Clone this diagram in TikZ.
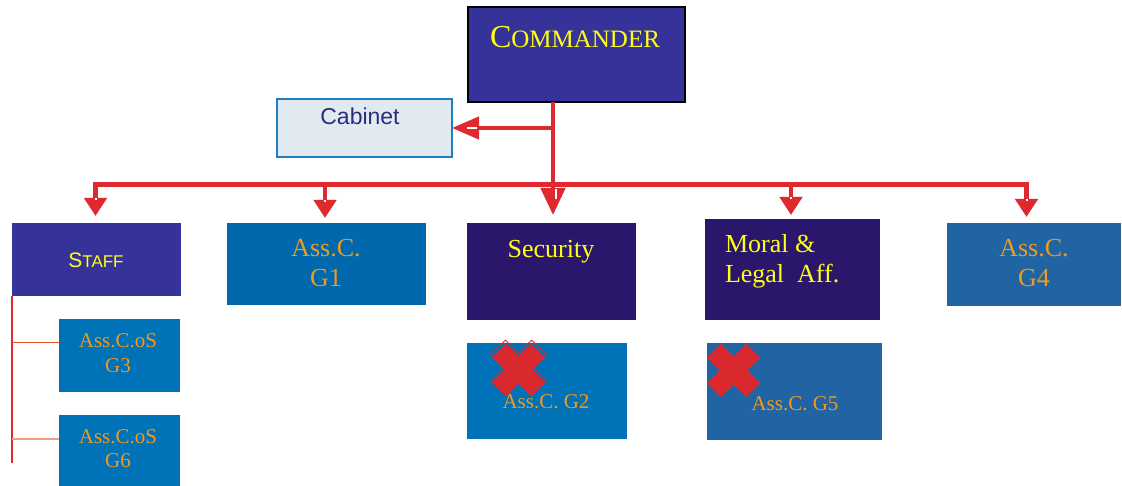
\documentclass[tikz,border=0pt]{standalone}
\usepackage{fontspec}
\setmainfont{Liberation Serif}
\setsansfont{Liberation Sans}
\usetikzlibrary{arrows.meta,calc}
\definecolor{cmdblue}{HTML}{35339A}
\definecolor{darkpurple}{HTML}{2A176C}
\definecolor{blueA}{HTML}{0068AD}
\definecolor{blueB}{HTML}{0072B8}
\definecolor{blueC}{HTML}{2064A4}
\definecolor{cabfill}{HTML}{E2EAF1}
\definecolor{cabdraw}{HTML}{1E80C2}
\definecolor{cabtext}{HTML}{2B2C7E}
\definecolor{lred}{HTML}{DE2A2F}
\definecolor{crossred}{HTML}{D9292E}
\definecolor{otext}{HTML}{F09A1E}
\definecolor{ytext}{HTML}{FFFF10}
\definecolor{branchA}{HTML}{E8502C}
\definecolor{branchB}{HTML}{F0A07E}
\tikzset{
  droptip/.tip={Triangle[length=18pt,width=22pt]},
  bigtip/.tip={Triangle[length=27pt,width=24pt]},
  cabtip/.tip={Triangle[length=27pt,width=22pt]}
}
\begin{document}
\begin{tikzpicture}[x=1pt,y=-1pt,
  box/.style={rectangle, inner sep=0pt, outer sep=0pt, anchor=north west},
  lbl/.style={inner sep=0pt, outer sep=0pt, anchor=base},
  otxt/.style={lbl, text=otext, font=\fontsize{26}{30}\selectfont},
  otxtsm/.style={lbl, text=otext, font=\fontsize{21}{24}\selectfont},
  ytxt/.style={lbl, text=ytext, font=\fontsize{26}{30}\selectfont},
  redline/.style={draw=lred, line width=4.5pt, line join=miter},
  notch/.style={draw=white, line width=2pt},
  xmark/.pic={\fill[crossred, rotate=45] (9.9,27.6) -- (9.9,9.9) -- (27.6,9.9) -- (27.6,-9.9) -- (9.9,-9.9) -- (9.9,-27.6) -- (-9.9,-27.6) -- (-9.9,-9.9) -- (-27.6,-9.9) -- (-27.6,9.9) -- (-9.9,9.9) -- (-9.9,27.6) -- cycle;},
  xoutline/.pic={\draw[crossred, line width=0.8pt, rotate=45, scale=1.05] (9.9,27.6) -- (9.9,9.9) -- (27.6,9.9) -- (27.6,-9.9) -- (9.9,-9.9) -- (9.9,-27.6) -- (-9.9,-27.6) -- (-9.9,-9.9) -- (-27.6,-9.9) -- (-27.6,9.9) -- (-9.9,9.9) -- (-9.9,27.6) -- cycle;}
]
\useasboundingbox (0,0) rectangle (1122,486);

% boxes
\node[box, fill=cmdblue, draw=black, line width=1.5pt, minimum width=217pt, minimum height=95pt] (cmd) at (468,7) {};
\node[box, fill=cabfill, draw=cabdraw, line width=1.5pt, minimum width=175pt, minimum height=58pt] (cab) at (277,99) {};
\node[box, fill=cmdblue, minimum width=169pt, minimum height=73pt] (staff) at (12,223) {};
\node[box, fill=blueA, minimum width=199pt, minimum height=82pt] (g1) at (227,223) {};
\node[box, fill=darkpurple, minimum width=169pt, minimum height=97pt] (sec) at (467,223) {};
\node[box, fill=darkpurple, minimum width=175pt, minimum height=101pt] (moral) at (705,219) {};
\node[box, fill=blueC, minimum width=174pt, minimum height=83pt] (g4) at (947,223) {};
\node[box, fill=blueB, minimum width=121pt, minimum height=73pt] (g3) at (59,319) {};
\node[box, fill=blueB, minimum width=121pt, minimum height=72pt] (g6) at (59,415) {};
\node[box, fill=blueB, minimum width=160pt, minimum height=96pt] (g2) at (467,343) {};
\node[box, fill=blueC, minimum width=175pt, minimum height=97pt] (g5) at (707,343) {};

% texts
\node[lbl, text=ytext] (cmdt) at (575,48) {{\fontsize{32}{32}\selectfont C}{\fontsize{25}{25}\selectfont OMMANDER}};
\node[lbl, text=cabtext, font=\sffamily\fontsize{23}{26}\selectfont] (cabt) at (360,125) {Cabinet};
\node[lbl, text=ytext, font=\sffamily] (stafft) at (96,268) {{\fontsize{21}{21}\selectfont S}{\fontsize{17}{17}\selectfont TAFF}};
\node[otxt] (g1a) at (326,257) {Ass.C.};
\node[otxt] (g1b) at (326,287) {G1};
\node[ytxt] (sect) at (551,258) {Security};
\node[ytxt, anchor=base west] (mora) at (725,253) {Moral \&};
\node[ytxt, anchor=base west] (morb) at (725,283) {Legal\ \ Aff.};
\node[otxt] (g4a) at (1034,257) {Ass.C.};
\node[otxt] (g4b) at (1034,287) {G4};
\node[otxtsm] (g3a) at (118,348) {Ass.C.oS};
\node[otxtsm] (g3b) at (118,372) {G3};
\node[otxtsm] (g6a) at (118,443) {Ass.C.oS};
\node[otxtsm] (g6b) at (118,467) {G6};
\node[otxtsm] (g2t) at (546,408) {Ass.C. G2};
\node[otxtsm] (g5t) at (795,410) {Ass.C. G5};

% crosses
\pic at (518.5,368) {xoutline};
\pic at (518.5,370) {xmark};
\pic at (733.5,370.5) {xmark};

% connectors
\coordinate (jc) at (553,128);
\coordinate (jb) at (553,184.5);
\coordinate (barL) at (95.5,184.5);
\coordinate (barR) at (1026.5,184.5);
\coordinate (d1) at (325,184.5);
\coordinate (d3) at (791,184.5);

\draw[redline, -{bigtip}] (cmd.south -| jb) -- ([yshift=8pt]sec.north -| jb);
\draw[redline, -{cabtip}] (jc) -- (cab.east |- jc);
\draw[redline, {droptip}-{droptip}] ([yshift=7pt]staff.north -| barL) -- (barL) -- (barR) -- ([yshift=6pt]g4.north -| barR);
\draw[redline, -{droptip}] (d1) -- ([yshift=5pt]g1.north -| d1);
\draw[redline, -{droptip}] (d3) -- ([yshift=4pt]moral.north -| d3);

% white notches of the arrowheads
\draw[notch] ([yshift=25pt]staff.north -| barL) -- ([yshift=23pt]staff.north -| barL);
\draw[notch] ([yshift=24pt]g4.north -| barR) -- ([yshift=22pt]g4.north -| barR);
\draw[notch] ([yshift=23pt]g1.north -| d1) -- ([yshift=21pt]g1.north -| d1);
\draw[notch] ([yshift=22pt]moral.north -| d3) -- ([yshift=20pt]moral.north -| d3);
\draw[notch] ([xshift=3pt,yshift=34pt]sec.north -| jb) -- ([xshift=3pt,yshift=24pt]sec.north -| jb);
\draw[notch] ([xshift=15pt]cab.east |- jc) -- ([xshift=25pt]cab.east |- jc);

% staff bracket
\coordinate (sb) at (11.5,463);
\coordinate (b3) at (11.5,343);
\coordinate (b6) at (11.5,439);
\draw[draw=lred, line width=2pt] ([xshift=-0.5pt]staff.south west) -- (sb);
\draw[draw=branchA, line width=1pt] (b3) -- (b3 -| g3.west);
\draw[draw=branchB, line width=2pt] (b6) -- (b6 -| g6.west);
\end{tikzpicture}
\end{document}
